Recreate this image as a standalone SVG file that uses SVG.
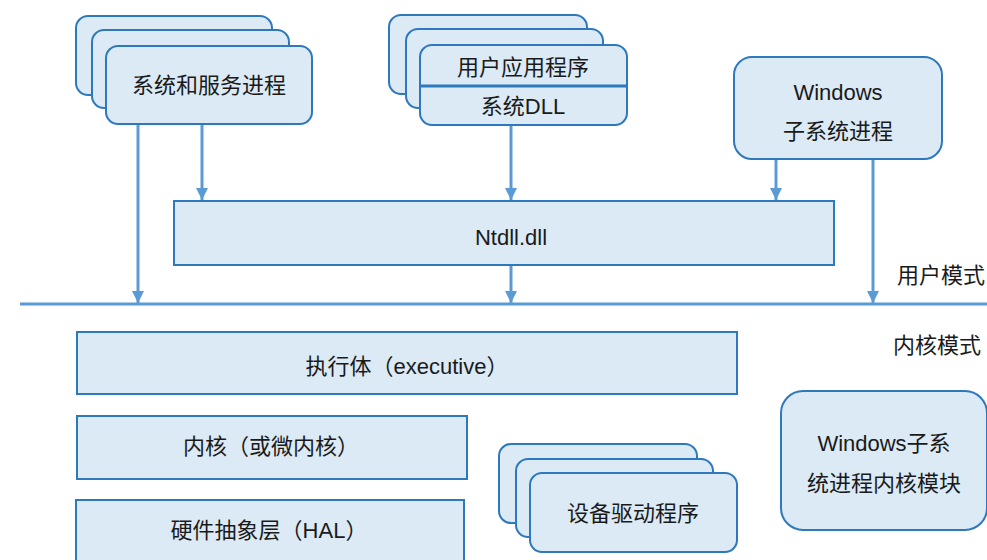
<svg xmlns="http://www.w3.org/2000/svg" width="987" height="560" viewBox="0 0 987 560">
<defs>
<style>
.box{fill:#dbeaf5;stroke:#2e78bd;stroke-width:2}
.conn{stroke:#5b9bd5;stroke-width:3;fill:none}
.t{font-family:"Liberation Sans","Noto Sans CJK SC",sans-serif;font-size:22px;fill:#1a1a1a;text-anchor:middle;dominant-baseline:central}
</style>
<marker id="ah" viewBox="0 0 10 10" refX="10" refY="5" markerWidth="4" markerHeight="4" markerUnits="strokeWidth" orient="auto">
<path d="M0,0 L10,5 L0,10 z" fill="#5b9bd5"/>
</marker>
</defs>
<rect width="987" height="560" fill="#ffffff"/>

<g id="sys-services">
<rect class="box" x="76" y="16" width="196" height="79" rx="12"/>
<rect class="box" x="92" y="30" width="197" height="78" rx="12"/>
<rect class="box" x="106" y="46" width="206" height="78" rx="12"/>
<text class="t" x="209" y="85">系统和服务进程</text>
</g>

<g id="user-apps">
<rect class="box" x="389" y="15" width="198" height="79" rx="12"/>
<rect class="box" x="406" y="29" width="197" height="79" rx="12"/>
<rect class="box" x="420" y="45" width="207" height="80" rx="12"/>
<line x1="420" y1="86" x2="627" y2="86" stroke="#2e78bd" stroke-width="3"/>
<text class="t" x="523" y="67">用户应用程序</text>
<text class="t" x="523" y="106">系统DLL</text>
</g>

<g id="win-subsys">
<rect class="box" x="734" y="57" width="208" height="102" rx="18"/>
<text class="t" x="838" y="92">Windows</text>
<text class="t" x="838" y="131">子系统进程</text>
</g>

<g id="ntdll">
<rect class="box" x="174" y="201" width="660" height="64"/>
<text class="t" x="511" y="237">Ntdll.dll</text>
</g>

<g id="mode-labels">
<text class="t" x="941" y="275">用户模式</text>
<text class="t" x="937" y="345">内核模式</text>
</g>

<g id="executive">
<rect class="box" x="77" y="332" width="660" height="62"/>
<text class="t" x="407" y="366">执行体（executive）</text>
</g>

<g id="kernel">
<rect class="box" x="77" y="416" width="390" height="63"/>
<text class="t" x="271" y="446">内核（或微内核）</text>
</g>

<g id="hal">
<rect class="box" x="76" y="500" width="388" height="75"/>
<text class="t" x="269" y="530">硬件抽象层（HAL）</text>
</g>

<g id="drivers">
<rect class="box" x="499" y="444" width="198" height="79" rx="12"/>
<rect class="box" x="516" y="459" width="197" height="78" rx="12"/>
<rect class="box" x="530" y="473" width="207" height="79" rx="12"/>
<text class="t" x="633" y="513">设备驱动程序</text>
</g>

<g id="win-kernel-mod">
<rect class="box" x="781" y="391" width="206" height="139" rx="22"/>
<text class="t" x="884" y="443">Windows子系</text>
<text class="t" x="884" y="483">统进程内核模块</text>
</g>

<g id="connectors">
<line x1="20" y1="304" x2="987" y2="304" stroke="#5b9bd5" stroke-width="3"/>
<line class="conn" x1="138" y1="125" x2="138" y2="303" marker-end="url(#ah)"/>
<line class="conn" x1="202" y1="125" x2="202" y2="200" marker-end="url(#ah)"/>
<line class="conn" x1="511" y1="126" x2="511" y2="200" marker-end="url(#ah)"/>
<line class="conn" x1="776" y1="160" x2="776" y2="200" marker-end="url(#ah)"/>
<line class="conn" x1="873" y1="160" x2="873" y2="303" marker-end="url(#ah)"/>
<line class="conn" x1="511" y1="266" x2="511" y2="303" marker-end="url(#ah)"/>
</g>
</svg>
